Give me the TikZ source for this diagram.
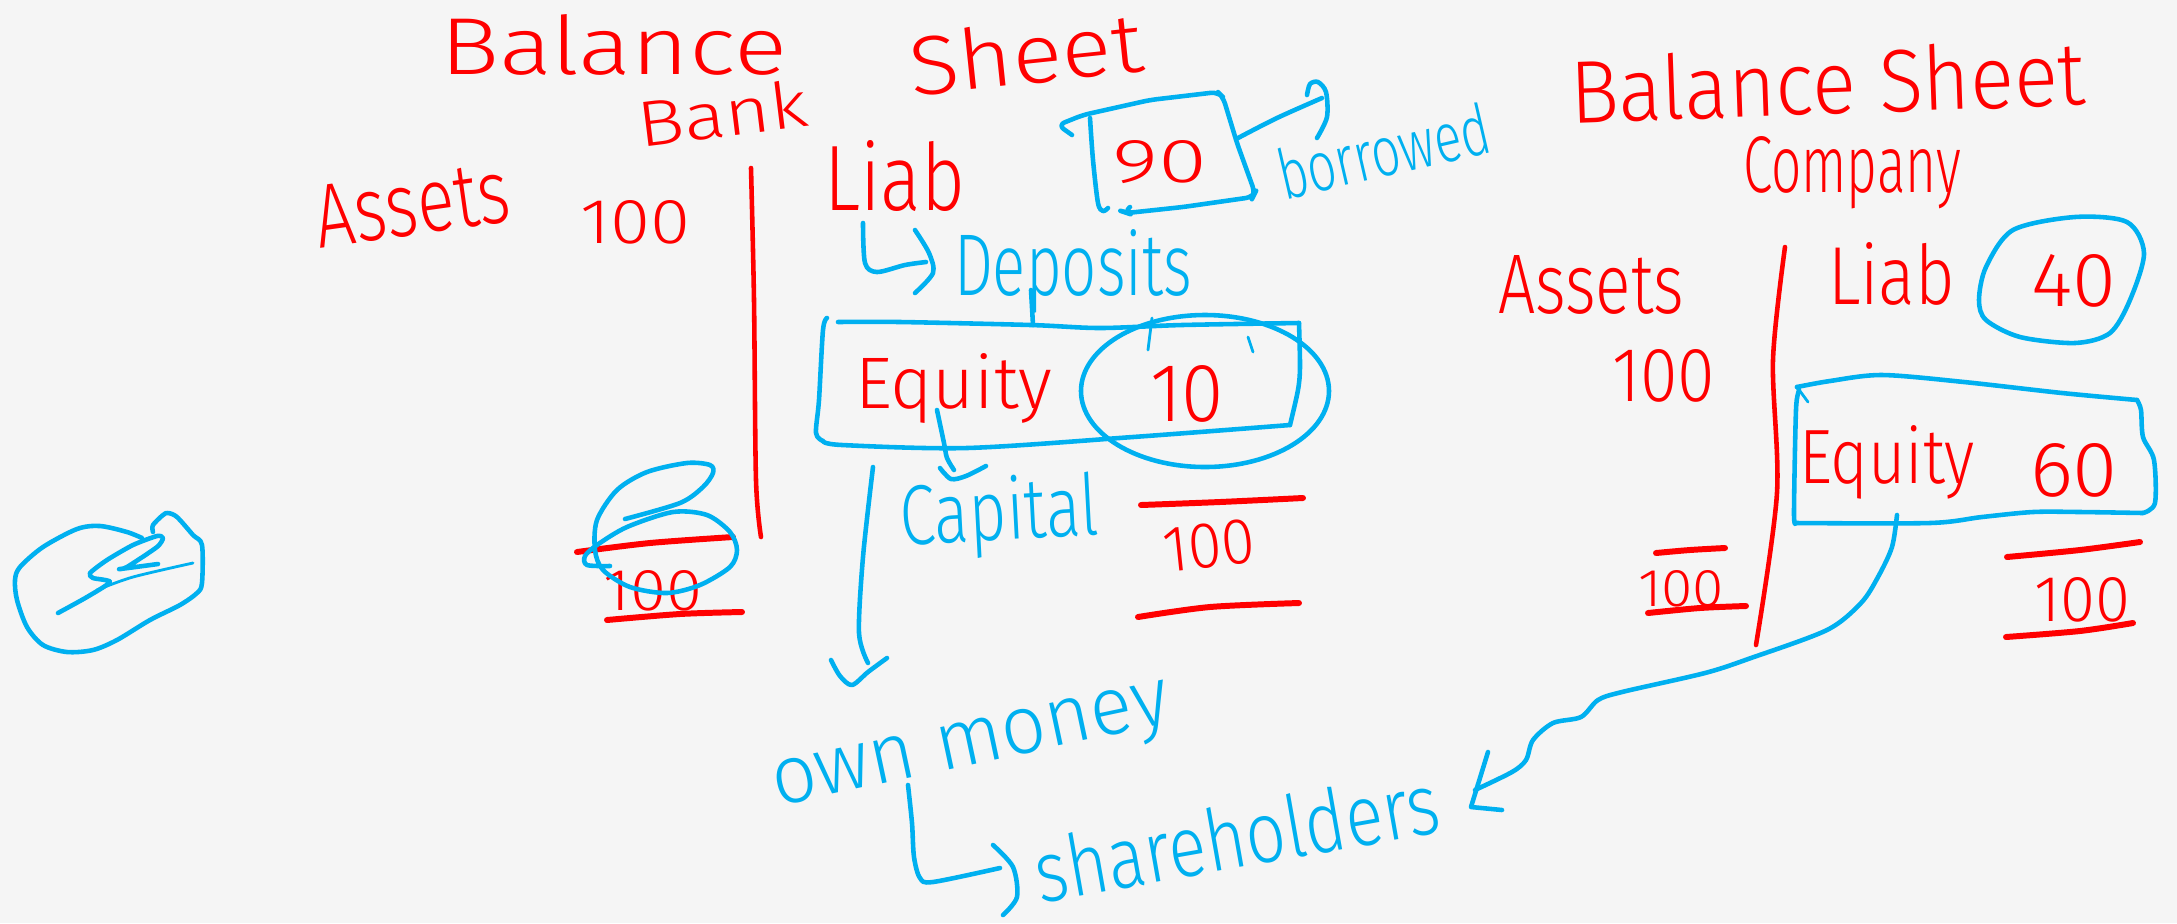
\documentclass[tikz,border=0pt]{standalone}
\usepackage{fontspec}
\usepackage{graphicx}
\setmainfont{Fira Sans Light}
\definecolor{penred}{HTML}{FF0000}
\definecolor{penblue}{HTML}{00B0F0}
\definecolor{board}{HTML}{F5F5F5}
\newdimen\pxu \pxu=0.01cm
\newcommand\fitto[3]{\resizebox{#1\pxu}{#2\pxu}{#3}}
\tikzset{
  hwtxt/.style={inner sep=0pt, outer sep=0pt, anchor=base west},
  redtxt/.style={hwtxt, text=penred},
  bluetxt/.style={hwtxt, text=penblue},
  redink/.style={draw=penred, line width=1.3pt, line cap=round, line join=round},
  redthick/.style={draw=penred, line width=1.7pt, line cap=round, line join=round},
  blueink/.style={draw=penblue, line width=1.3pt, line cap=round, line join=round},
  bluethin/.style={draw=penblue, line width=0.8pt, line cap=round, line join=round},
}
\begin{document}
\begin{tikzpicture}[x=0.01cm, y=-0.01cm]
\fill[board] (0,0) rectangle (2177,923);
\useasboundingbox (0,0) rectangle (2177,923);

% ---------- Bank balance sheet (red text) ----------
\node[redtxt] (balL) at (440,74) {\fitto{347}{60}{Balance}};
\node[redtxt, rotate=6] (sheetL) at (912,96) {\fitto{235}{62}{Sheet}};
\node[redtxt, rotate=7] (bank) at (640,147) {\fitto{172}{48}{Bank}};
\node[redtxt, rotate=8] (assetsL) at (320,248) {\fitto{195}{62}{Assets}};
\node[redtxt] (hundL) at (580,243) {\fitto{110}{43}{100}};
\node[redtxt] (liabL) at (824,210) {\fitto{141}{70}{Liab}};
\node[redtxt] (ninety) at (1112,182) {\fitto{95}{42}{90}};
\node[redtxt] (equityL) at (855,408) {\fitto{197}{55}{Equity}};
\node[redtxt] (ten) at (1150,421) {\fitto{74}{56}{10}};
\node[redtxt, rotate=6] (hundTot) at (1165,572) {\fitto{93}{44}{100}};
\node[redtxt] (bankTot) at (603,610) {\fitto{99}{40}{100}};

% blue annotations
\node[bluetxt, rotate=13] (borrowed) at (1284,200) {\fitto{216}{52}{borrowed}};
\node[bluetxt] (deposits) at (954,295) {\fitto{238}{66}{Deposits}};
\node[bluetxt, rotate=3] (capital) at (901,545) {\fitto{199}{64}{Capital}};
\node[bluetxt, rotate=12] (ownmoney) at (777,806) {\fitto{405}{44}{own money}};
\node[bluetxt, rotate=10] (holders) at (1040,903) {\fitto{410}{64}{shareholders}};

% red strokes (bank)
\draw[redink] plot[smooth] coordinates {(751,168) (754,300) (756,480) (761,537)};
\draw[redthick] plot[smooth] coordinates {(1141,505) (1220,502) (1303,498)};
\draw[redthick] plot[smooth] coordinates {(1138,617) (1210,607) (1299,603)};
\draw[redthick] plot[smooth] coordinates {(577,552) (650,543) (733,537)};
\draw[redthick] plot[smooth] coordinates {(607,620) (680,614) (742,612)};

% box around 90 and "borrowed" hook
\draw[blueink, rounded corners=2] (1072,135) -- (1058,125) -- (1083,115) -- (1150,100) -- (1218,92) -- (1223,97) -- (1237,143) -- (1255,193) -- (1253,197) -- (1183,207) -- (1127,213) -- (1124,212) -- (1130,207);
\draw[blueink] plot[smooth] coordinates {(1090,118) (1093,160) (1098,203) (1103,211) (1108,208)};
\coordinate (boxR) at (1238,138);
\coordinate (borHook) at (1322,98);
\draw[blueink] plot[smooth] coordinates {(boxR) (1277,118) (borHook)};
\draw[blueink] plot[smooth] coordinates {(1307,95) (1310,84) (1318,82) (1326,92) (1327,117) (1317,138)};

% Deposits hook arrow
\draw[blueink] plot[smooth] coordinates {(863,223) (865,263) (877,272) (905,265) (926,262)};
\draw[blueink] plot[smooth] coordinates {(915,230) (929,253) (933,273) (915,293)};
\draw[blueink] (1031,290) -- (1033,325);

% Equity box (bank)
\draw[blueink] plot[smooth] coordinates {(838,322) (900,322) (1031,325) (1100,328) (1182,325) (1299,323)};
\draw[blueink] plot[smooth] coordinates {(827,318) (823,330) (819,400) (816,433) (823,441)};
\draw[blueink] plot[smooth] coordinates {(823,441) (842,445) (967,448) (1133,437) (1290,425)};
\draw[blueink] plot[smooth] coordinates {(1299,323) (1300,367) (1298,390) (1290,425)};
% ellipse around 10
\draw[blueink] (1205,391) ellipse [x radius=124, y radius=76];
\draw[bluethin] (1152,318) -- (1148,350);
\draw[bluethin] (1248,337) -- (1253,352);

% Equity -> Capital
\draw[blueink] plot[smooth] coordinates {(937,410) (944,443) (947,458) (954,470)};
\draw[blueink] plot[smooth] coordinates {(940,468) (951,479) (966,476) (986,466)};

% Equity -> own money (long arrow)
\coordinate (eqDown) at (873,467);
\coordinate (ownTip) at (852,685);
\draw[blueink] plot[smooth] coordinates {(eqDown) (863,557) (859,633) (868,663)};
\draw[blueink] plot[smooth] coordinates {(831,660) (840,676) (ownTip) (868,672) (887,658)};

% own money -> shareholders hook
\draw[blueink] plot[smooth] coordinates {(908,785) (912,823) (914,857) (920,878) (933,882) (1000,868)};
\draw[blueink] plot[smooth] coordinates {(993,845) (1013,867) (1017,897) (1003,915)};

% scribble over bank total
\draw[blueink] plot[smooth] coordinates {(610,566) (587,565) (585,556) (597,545) (627,527) (673,512) (707,515) (730,532) (737,550) (730,567) (700,585) (667,593) (630,587) (603,570) (595,550) (597,520) (617,490) (647,472) (687,463) (710,465) (713,473) (703,487) (680,503) (625,519)};

% scribble at far left
\draw[blueink] plot[smooth] coordinates {(142,538) (127,532) (100,526) (77,529) (43,547) (20,567) (15,580) (17,600) (27,627) (43,645) (67,652) (93,650) (117,640) (150,620) (180,605) (197,593) (202,583) (202,545) (193,535) (177,517) (168,513) (163,515) (153,525) (153,532)};
\draw[blueink] plot[smooth, tension=0.4] coordinates {(58,613) (87,597) (110,582) (93,578) (90,573) (107,560) (133,545) (157,536) (163,538) (157,547) (127,567) (120,569) (158,564)};
\draw[bluethin] plot[smooth] coordinates {(97,590) (133,577) (193,563)};

% ---------- Company balance sheet ----------
\node[redtxt, rotate=2] (balR) at (1571,123) {\fitto{516}{66}{Balance Sheet}};
\node[redtxt] (company) at (1743,192) {\fitto{218}{56}{Company}};
\node[redtxt] (assetsR) at (1498,313) {\fitto{186}{58}{Assets}};
\node[redtxt] (hundR) at (1612,401) {\fitto{103}{52}{100}};
\node[redtxt] (liabR) at (1828,304) {\fitto{127}{62}{Liab}};
\node[redtxt] (forty) at (2031,306) {\fitto{85}{52}{40}};
\node[redtxt] (equityR) at (1799,483) {\fitto{176}{58}{Equity}};
\node[redtxt] (sixty) at (2030,496) {\fitto{88}{53}{60}};
\node[redtxt] (totR) at (2034,621) {\fitto{96}{44}{100}};
\node[redtxt] (totRA) at (1638,606) {\fitto{86}{36}{100}};

\draw[redink] plot[smooth] coordinates {(1785,247) (1773,360) (1777,493) (1756,645)};
\draw[redthick] plot[smooth] coordinates {(1656,553) (1690,550) (1725,548)};
\draw[redthick] plot[smooth] coordinates {(1648,613) (1700,608) (1746,606)};
\draw[redthick] plot[smooth] coordinates {(2007,557) (2080,550) (2140,542)};
\draw[redthick] plot[smooth] coordinates {(2006,637) (2080,631) (2133,623)};

% circle around 40
\draw[blueink] plot[smooth cycle] coordinates {(2013,230) (2075,217) (2127,222) (2144,253) (2130,300) (2110,333) (2075,343) (2020,337) (1986,320) (1979,300) (1986,267)};

% Equity box (company)
\draw[blueink] plot[smooth] coordinates {(1797,387) (1830,381) (1882,375) (1964,382) (2062,393) (2137,400)};
\draw[blueink] plot[smooth] coordinates {(2137,400) (2141,410) (2143,437) (2154,460) (2155,503) (2143,513)};
\draw[blueink] plot[smooth] coordinates {(2143,513) (2080,512) (2033,512) (1982,517) (1930,523) (1796,523)};
\draw[blueink] plot[smooth] coordinates {(1796,523) (1794,513) (1796,410) (1799,390) (1797,387)};
\draw[bluethin] (1797,387) -- (1808,402);

% Equity (company) -> shareholders
\coordinate (eqRbot) at (1897,515);
\coordinate (holdTip) at (1471,807);
\draw[blueink] plot[smooth] coordinates {(eqRbot) (1892,547) (1878,577) (1861,603) (1827,630) (1751,658) (1705,673) (1622,692) (1598,700) (1581,717) (1553,723) (1533,740) (1526,760) (1512,772) (1475,790)};
\draw[blueink] (1488,752) -- (holdTip) -- (1502,810);
\end{tikzpicture}
\end{document}
